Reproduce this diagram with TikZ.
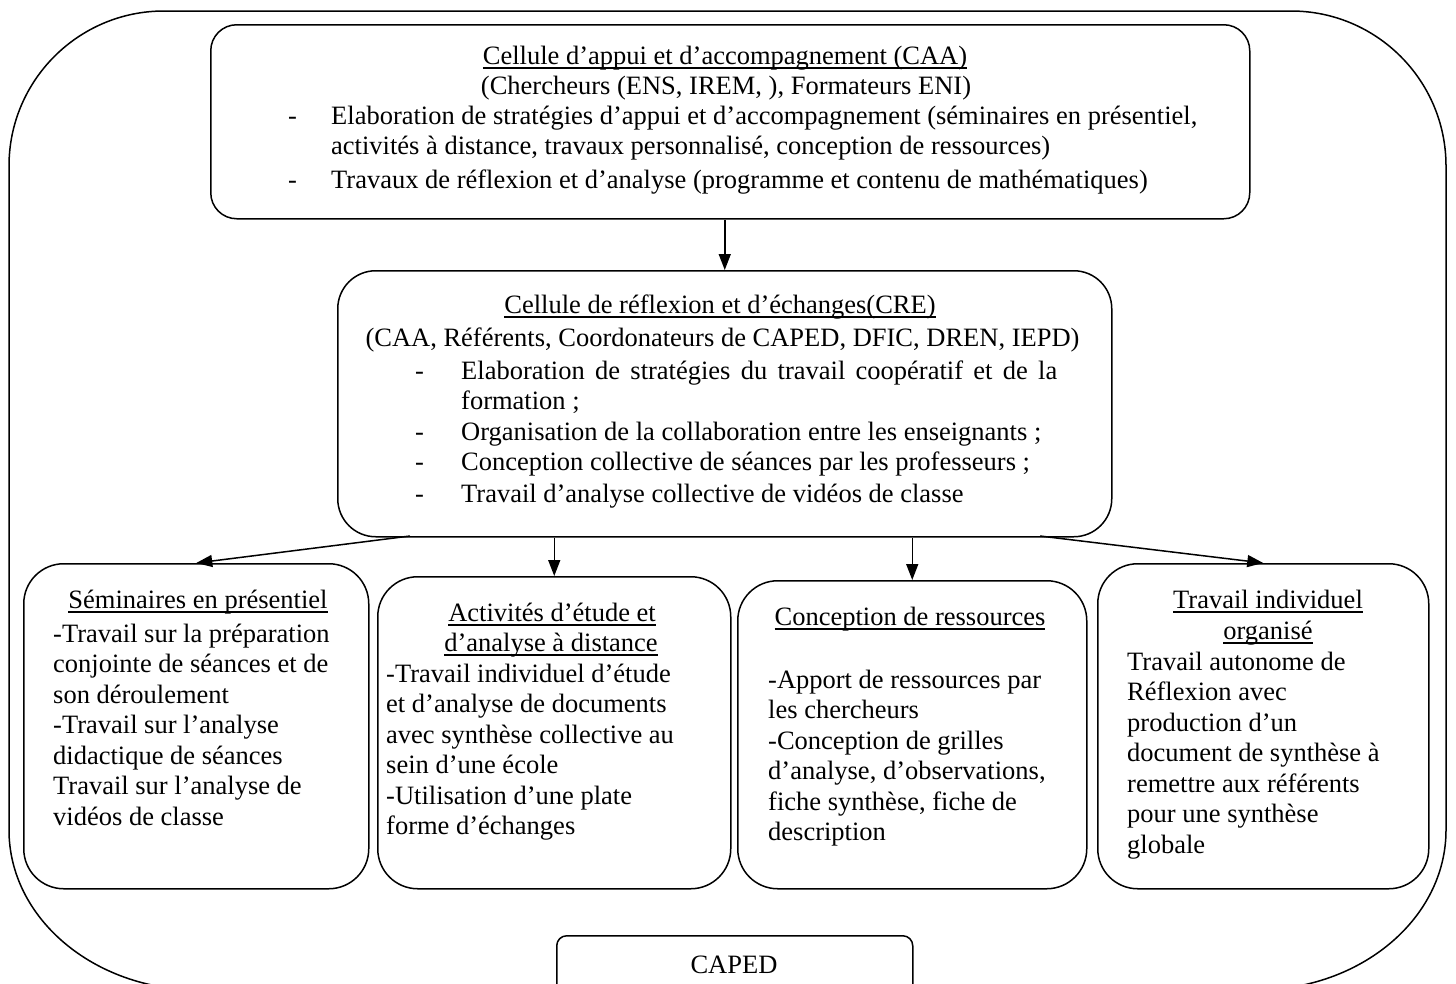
\documentclass[tikz,border=0pt]{standalone}
\usepackage{fontspec}
\setmainfont{Liberation Serif}
\usetikzlibrary{arrows.meta}
\newcommand\myul[1]{\setbox0\hbox{#1}\rlap{\rule[-4.5pt]{\wd0}{1.3pt}}\box0}
\begin{document}
\begin{tikzpicture}[x=1pt,y=-1pt,
  every node/.style={font=\fontsize{26.5}{30.5}\selectfont, inner sep=0pt},
  boxs/.style={draw, line width=1.5pt, anchor=north west, rounded corners=#1},
  tl/.style={anchor=base west},
  tc/.style={anchor=base},
  arr/.style={line width=1.5pt, -{Triangle[length=16pt,width=12pt]}},
]
\path[use as bounding box] (0,0) rectangle (1456,983);
\clip (0,0) rectangle (1456,983);
\fill[white] (0,0) rectangle (1456,983);

% outer frame
\draw[line width=1.5pt] (9,830) -- (9,166)
  .. controls (9,80.4) and (78.4,11) .. (164,11)
  -- (1291,11)
  .. controls (1376.6,11) and (1446,80.4) .. (1446,166)
  -- (1446,830)
  .. controls (1446,918.4) and (1360.9,990) .. (1256,990)
  -- (199,990)
  .. controls (94.1,990) and (9,918.4) .. (9,830) -- cycle;

% boxes
\node[boxs=26pt, minimum width=1039pt, minimum height=194pt] (A) at (210,24) {};
\node[boxs=38pt, minimum width=774pt, minimum height=266pt] (B) at (337,270) {};
\node[boxs=40pt, minimum width=345pt, minimum height=325pt] (S1) at (23,563) {};
\node[boxs=40pt, minimum width=353pt, minimum height=312pt] (S2) at (377,576) {};
\node[boxs=40pt, minimum width=349pt, minimum height=308pt] (S3) at (737,580) {};
\node[boxs=40pt, minimum width=331pt, minimum height=325pt] (S4) at (1097,563) {};
\node[boxs=10pt, minimum width=356pt, minimum height=70pt] (C) at (556,935) {};

% connectors
\coordinate (o1) at (410,536);
\coordinate (o4) at (1040,536);
\draw[arr] (A.south -| B.north) -- (B.north);
\draw[arr] (o1) -- (S1.north);
\draw[arr] (B.south -| S2.north) -- (S2.north);
\draw[arr] (B.south -| S3.north) -- (S3.north);
\draw[arr] (o4) -- (S4.north);

% texts box A
\node[tc] (a1) at (725,64) {\myul{Cellule d’appui et d’accompagnement (CAA)}};
\node[tc] (a2) at (726,94) {(Chercheurs (ENS, IREM, ), Formateurs ENI)};
\node[tl] (a3d) at (288,124) {-};
\node[tl] (a3) at (331,124) {Elaboration de stratégies d’appui et d’accompagnement (séminaires en présentiel,};
\node[tl] (a4) at (331,154) {activités à distance, travaux personnalisé, conception de ressources)};
\node[tl] (a5d) at (288,188) {-};
\node[tl] (a5) at (331,188) {Travaux de réflexion et d’analyse (programme et contenu de mathématiques)};

% texts box B
\node[tc] (b1) at (720,313) {\myul{Cellule de réflexion et d’échanges(CRE)}};
\node[tc] (b2) at (722.5,346) {(CAA, Référents, Coordonateurs de CAPED, DFIC, DREN, IEPD)};
\node[tl] (b3d) at (415,379) {-};
\node[tl] (b3) at (461,379) {\makebox[596pt][s]{Elaboration de stratégies du travail coopératif et de la}};
\node[tl] (b4) at (461,409) {formation ;};
\node[tl] (b5d) at (415,440) {-};
\node[tl] (b5) at (461,440) {Organisation de la collaboration entre les enseignants ;};
\node[tl] (b6d) at (415,470) {-};
\node[tl] (b6) at (461,470) {Conception collective de séances par les professeurs ;};
\node[tl] (b7d) at (415,502) {-};
\node[tl] (b7) at (461,502) {Travail d’analyse collective de vidéos de classe};

% box 1
\node[tc] (s1t) at (198,608) {\myul{Séminaires en présentiel}};
\foreach \t [count=\i] in {{-Travail sur la préparation},{conjointe de séances et de},{son déroulement},{-Travail sur l’analyse},{didactique de séances},{Travail sur l’analyse de},{vidéos de classe}}
  \node[tl] (s1-\i) at (53,{642+30.5*(\i-1)}) {\t};

% box 2
\node[tc] (s2t) at (552,621) {\myul{Activités d’étude et}};
\node[tc] (s2u) at (551,651) {\myul{d’analyse à distance}};
\foreach \t [count=\i] in {{-Travail individuel d’étude},{et d’analyse de documents},{avec synthèse collective au},{sein d’une école},{-Utilisation d’une plate},{forme d’échanges}}
  \node[tl] (s2-\i) at (386,{682+30.5*(\i-1)}) {\t};

% box 3
\node[tc] (s3t) at (910,625) {\myul{Conception de ressources}};
\foreach \t [count=\i] in {{-Apport de ressources par},{les chercheurs},{-Conception de grilles},{d’analyse, d’observations,},{fiche synthèse, fiche de},{description}}
  \node[tl] (s3-\i) at (768,{688+30.5*(\i-1)}) {\t};

% box 4
\node[tc] (s4t) at (1268,608) {\myul{Travail individuel}};
\node[tc] (s4u) at (1268,639) {\myul{organisé}};
\foreach \t [count=\i] in {{Travail autonome de},{Réflexion avec},{production d’un},{document de synthèse à},{remettre aux référents},{pour une synthèse},{globale}}
  \node[tl] (s4-\i) at (1127,{670+30.5*(\i-1)}) {\t};

% CAPED
\node[tc] (ct) at (734,973) {CAPED};
\end{tikzpicture}
\end{document}
